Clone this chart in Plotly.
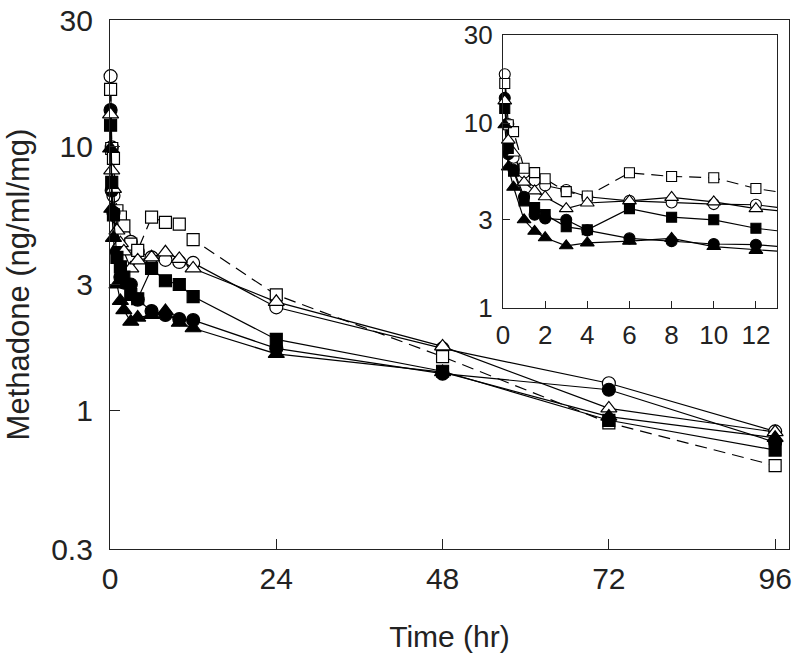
import math
import plotly.graph_objects as go

# ---- data ----
time_hr = [0.083, 0.25, 0.5, 1, 1.5, 2, 3, 4, 6, 8, 10, 12, 24, 48, 72, 96]

open_circle = [18.4, 9.9, 6.5, 5.4, 4.9, 4.6, 4.35, 4.0, 3.8, 3.72, 3.65, 3.62, 2.46, 1.72, 1.27, 0.835]
open_square = [16.4, 9.8, 9.0, 5.7, 5.4, 5.0, 4.26, 4.04, 5.39, 5.15, 5.07, 4.43, 2.74, 1.60, 0.90, 0.62]
filled_circle = [13.7, 6.8, 5.6, 4.0, 3.2, 3.05, 3.0, 2.63, 2.38, 2.3, 2.22, 2.2, 1.72, 1.38, 1.20, 0.76]
open_triangle = [13.2, 8.1, 6.9, 4.8, 4.3, 4.0, 3.45, 3.7, 3.8, 3.97, 3.75, 3.45, 2.58, 1.75, 1.02, 0.83]
filled_square = [12.0, 7.3, 5.5, 3.8, 3.5, 3.2, 2.75, 2.65, 3.45, 3.1, 3.0, 2.7, 1.86, 1.41, 0.92, 0.71]
filled_triangle = [9.8, 5.8, 4.5, 3.0, 2.6, 2.4, 2.17, 2.25, 2.3, 2.38, 2.15, 2.05, 1.64, 1.40, 0.95, 0.79]

main_xticks = [0, 24, 48, 72, 96]
main_yticks = [0.3, 1, 3, 10, 30]
main_yticktext = ["0.3", "1", "3", "10", "30"]
inset_xticks = [0, 2, 4, 6, 8, 10, 12]
inset_yticks = [1, 3, 10, 30]
inset_yticktext = ["1", "3", "10", "30"]

series = [
    ("open circle", open_circle, "circle", "white", "solid"),
    ("open square", open_square, "square", "white", "12px,7px"),
    ("filled circle", filled_circle, "circle", "black", "solid"),
    ("open triangle", open_triangle, "triangle-up", "white", "solid"),
    ("filled square", filled_square, "square", "black", "solid"),
    ("filled triangle", filled_triangle, "triangle-up", "black", "solid"),
]
size_main = {"circle": 13, "square": 12, "triangle-up": 14}
size_inset = {"circle": 11, "square": 10, "triangle-up": 12}

FONT = "Liberation Sans, Arial, sans-serif"
fig = go.Figure()

# main plot
for name, vals, sym, fill, dash in series:
    fig.add_trace(go.Scatter(
        x=time_hr, y=vals, mode="lines+markers", name=name,
        line=dict(color="black", width=1.2, dash=dash),
        marker=dict(symbol=sym, size=size_main[sym], color=fill,
                    line=dict(color="black", width=1.2)),
        cliponaxis=False, xaxis="x", yaxis="y", showlegend=False))

# inset: lines (clipped) then markers for the first 12 h
n_line = sum(1 for t in time_hr if t <= 24)
n_mark = sum(1 for t in time_hr if t <= 12)
for name, vals, sym, fill, dash in series:
    fig.add_trace(go.Scatter(
        x=time_hr[:n_line], y=vals[:n_line], mode="lines",
        line=dict(color="black", width=1.2, dash=dash),
        xaxis="x2", yaxis="y2", showlegend=False, hoverinfo="skip"))
for name, vals, sym, fill, dash in series:
    fig.add_trace(go.Scatter(
        x=time_hr[:n_mark], y=vals[:n_mark], mode="markers", name=name,
        marker=dict(symbol=sym, size=size_inset[sym], color=fill,
                    line=dict(color="black", width=1.1)),
        cliponaxis=False, xaxis="x2", yaxis="y2", showlegend=False))

def axis_style(size):
    return dict(showline=True, linecolor="#222", linewidth=1.3, mirror=True,
                showgrid=False, zeroline=False, ticks="inside", automargin=False,
                tickcolor="#222", tickwidth=1.2,
                tickfont=dict(family=FONT, size=size, color="#222"))

fig.update_layout(
    width=800, height=657,
    margin=dict(l=110, r=11, t=20, b=108),
    paper_bgcolor="white", plot_bgcolor="white",
    font=dict(family=FONT, color="#222"),
    xaxis=dict(axis_style(30), domain=[0, 1], range=[0, 98], tickvals=main_xticks,
               ticklen=10, ticklabelstandoff=3,
               title=dict(text="Time (hr)", font=dict(family=FONT, size=30, color="#222"), standoff=31)),
    yaxis=dict(axis_style(30), domain=[0, 1], type="log",
               range=[math.log10(0.3), math.log10(30)],
               tickvals=main_yticks, ticktext=main_yticktext, ticklen=10,
               ticklabelstandoff=10,
               title=dict(text="Methadone (ng/ml/mg)", font=dict(family=FONT, size=31, color="#222"), standoff=12)),
    xaxis2=dict(axis_style(26), domain=[0.5788, 0.9823], anchor="y2", range=[0, 13],
                tickvals=inset_xticks, ticklen=7, ticklabelstandoff=4),
    yaxis2=dict(axis_style(26), domain=[0.4556, 0.9716], anchor="x2", type="log",
                range=[0, math.log10(30)], tickvals=inset_yticks,
                ticktext=inset_yticktext, ticklen=7, ticklabelstandoff=4),
)

fig.write_html("out.html", config={"displayModeBar": False},
               post_script="document.body.style.margin='0';")
